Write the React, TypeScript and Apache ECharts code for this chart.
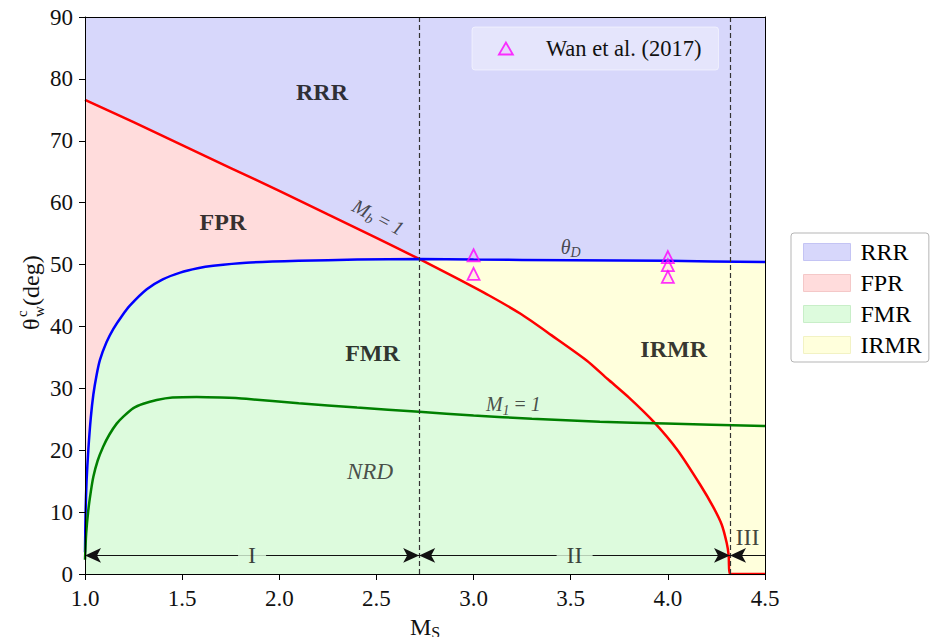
import React, { useEffect, useRef } from 'react';
import * as echarts from 'echarts';

const FONT = "'Liberation Serif', 'Times New Roman', serif";

// ---- data ----
const xTickRange = [1.0, 4.5, 0.5];
const yTickRange = [0, 90, 10];

// Mb = 1 boundary (red)
const redCurve: number[][] = [
  [1.0, 76.6], [1.25, 73.0], [1.5, 69.3], [1.75, 65.6], [2.0, 61.9], [2.25, 58.1],
  [2.5, 54.3], [2.72, 50.9], [2.9, 48.0], [3.08, 45.0], [3.244, 42.0], [3.4, 38.6],
  [3.582, 34.5], [3.69, 31.5], [3.8, 28.5], [3.93, 24.5], [4.05, 20.0], [4.165, 14.5],
  [4.234, 10.8], [4.277, 8.0], [4.303, 5.0], [4.313, 3.0], [4.318, 0], [4.5, 0],
];
// detachment criterion theta_D (blue)
const blueCurve: number[][] = [
  [1.0, 3.5], [1.003, 10.0], [1.008, 15.0], [1.017, 20.0], [1.03, 25.3], [1.043, 29.0],
  [1.06, 32.2], [1.077, 34.6], [1.11, 37.4], [1.146, 39.6], [1.19, 41.7], [1.232, 43.4],
  [1.318, 46.0], [1.4, 47.6], [1.49, 48.7], [1.58, 49.4], [1.66, 49.8], [1.83, 50.3],
  [2.1, 50.6], [2.4, 50.8], [2.72, 50.9], [3.0, 50.8], [3.5, 50.7], [4.0, 50.6], [4.5, 50.4],
];
// M1 = 1 (green)
const greenCurve: number[][] = [
  [1.0, 2.3], [1.006, 6.5], [1.017, 10.3], [1.03, 13.3], [1.043, 15.7], [1.065, 18.3],
  [1.094, 20.6], [1.125, 22.5], [1.163, 24.3], [1.2, 25.5], [1.249, 26.8], [1.3, 27.5],
  [1.369, 28.1], [1.45, 28.5], [1.575, 28.6], [1.7, 28.5], [1.83, 28.3], [2.1, 27.6],
  [2.4, 26.9], [2.72, 26.2], [3.0, 25.6], [3.3, 25.1], [3.65, 24.6], [3.99, 24.3], [4.5, 23.9],
];
// Wan et al. (2017)
const wanPoints: number[][] = [
  [3.0, 51.5], [3.0, 48.5], [4.0, 51.2], [4.0, 49.9], [4.0, 48.0],
];
const transitionMs = [2.72, 4.32];
const rangeLabels = ['I', 'II', 'III'];
const rangeBounds = [[1.0, 2.72], [2.72, 4.32], [4.32, 4.5]];
const arrowLevel = 3;
const regionNames = ['RRR', 'FPR', 'FMR', 'IRMR'];

const FILL: Record<string, string> = { RRR: '#d7d7fb', FPR: '#ffdcdc', FMR: '#ddfbdd', IRMR: '#ffffdc' };
const EDGE: Record<string, string> = { RRR: '#c4c4f4', FPR: '#f4c8c8', FMR: '#c8eec8', IRMR: '#f2f2c4' };

export default function App() {
  const ref = useRef<HTMLDivElement>(null);
  useEffect(() => {
    if (!ref.current) return;
    const chart = echarts.init(ref.current, undefined, { renderer: 'svg' });

    const fmrBoundary = blueCurve.filter(p => p[0] <= transitionMs[0])
      .concat(redCurve.filter(p => p[0] > transitionMs[0]));

    const area = (name: string, data: number[][], smooth: number) => ({
      name, type: 'line', data, symbol: 'none', showSymbol: false, silent: true,
      smooth,
      lineStyle: { width: 0, opacity: 0 },
      areaStyle: { color: FILL[name], opacity: 1 },
      itemStyle: { color: FILL[name] },
      z: 1,
    });

    const italic = { fontFamily: FONT, fontStyle: 'italic', fontSize: 20, color: '#222', lineHeight: 26, verticalAlign: 'middle' };
    const sub = { fontFamily: FONT, fontStyle: 'italic', fontSize: 14, color: '#222', lineHeight: 14, verticalAlign: 'bottom' };
    const normal = { fontFamily: FONT, fontSize: 20, color: '#222', lineHeight: 26, verticalAlign: 'middle' };
    const richLabel = { i: italic, s: sub, n: normal, I: { ...italic, fontSize: 23 } };

    const regionAnchors: Record<string, number[]> = {
      RRR: [2.22, 77.9], FPR: [1.71, 56.8], FMR: [2.48, 35.7], IRMR: [4.03, 36.3],
    };
    const curveTexts = [
      { t: '{i|M}{s|b}{n| = }{i|1}', p: [2.51, 57.7], r: -28 },
      { t: '{i|θ}{s|D}', p: [3.5, 52.9], r: 0 },
      { t: '{i|M}{s|1}{n| = }{i|1}', p: [3.205, 27.4], r: 0 },
      { t: '{I|NRD}', p: [2.467, 16.5], r: 0 },
    ];

    const annotationData: any[] = [];
    regionNames.forEach(n => annotationData.push({
      value: regionAnchors[n],
      label: { show: true, position: 'inside', formatter: n, fontFamily: FONT, fontWeight: 'bold', fontSize: 24, color: '#000' },
    }));
    curveTexts.forEach(c => annotationData.push({
      value: c.p,
      label: { show: true, position: 'inside', formatter: c.t, rotate: c.r, rich: richLabel },
    }));
    rangeLabels.forEach((lab, k) => {
      const mid = (rangeBounds[k][0] + rangeBounds[k][1]) / 2;
      const last = k === rangeLabels.length - 1;
      annotationData.push({
        value: [mid, last ? arrowLevel + 3.0 : arrowLevel],
        label: {
          show: true, position: 'inside', formatter: lab, fontFamily: FONT, fontSize: 24, color: '#111',
          backgroundColor: last ? 'transparent' : FILL.FMR, padding: last ? 0 : [0, 10],
        },
      });
    });

    const arrows = rangeBounds.map((b, k) => [
      { coord: [b[0], arrowLevel], symbol: 'arrow' },
      { coord: [b[1], arrowLevel], symbol: k === rangeBounds.length - 1 ? 'none' : 'arrow' },
    ]);

    const axisLineStyle = { color: '#000', width: 1 };

    chart.setOption({
      animation: false,
      textStyle: { fontFamily: FONT },
      grid: { left: 85, top: 17, width: 680, height: 557, containLabel: false, outerBoundsMode: 'none' },
      legend: [
        {
          orient: 'vertical', left: 791, top: 233, selectedMode: false,
          padding: [7, 7, 5, 12], itemWidth: 47, itemHeight: 17, itemGap: 7,
          backgroundColor: '#fff', borderColor: '#b5b5b5', borderWidth: 1, borderRadius: 3,
          textStyle: { fontFamily: FONT, fontSize: 24, color: '#000', padding: [0, 0, 0, 5] },
          data: regionNames.map(n => ({ name: n, icon: 'rect', itemStyle: { color: FILL[n], borderColor: EDGE[n], borderWidth: 1 } })),
        },
        {
          left: 472, top: 27, selectedMode: false,
          padding: [10, 17, 10, 26], itemWidth: 14, itemHeight: 12,
          backgroundColor: 'rgba(255,255,255,0.35)', borderColor: 'rgba(255,255,255,0.5)', borderWidth: 1, borderRadius: 3,
          textStyle: { fontFamily: FONT, fontSize: 22.5, color: '#111', padding: [0, 0, 0, 28] },
          data: [{ name: 'Wan et al. (2017)', icon: 'triangle', itemStyle: { color: 'rgba(255,0,255,0.08)', borderColor: '#ff00ff', borderWidth: 1.8 } }],
        },
      ],
      xAxis: [
        {
          type: 'value', min: xTickRange[0], max: xTickRange[1], interval: xTickRange[2], z: 10,
          axisLine: { show: true, onZero: false, lineStyle: axisLineStyle },
          axisTick: { show: true, length: 6, lineStyle: axisLineStyle },
          axisLabel: { formatter: (v: number) => v.toFixed(1), fontSize: 23, color: '#111', margin: 13, fontFamily: FONT },
          splitLine: { show: false },
          name: '{m|M}{s|S}', nameLocation: 'middle', nameGap: 31,
          nameTextStyle: {
            rich: {
              m: { fontFamily: FONT, fontSize: 24, color: '#111', lineHeight: 28, verticalAlign: 'middle' },
              s: { fontFamily: FONT, fontSize: 16, color: '#111', lineHeight: 16, verticalAlign: 'bottom' },
            },
          },
        },
        {
          type: 'value', position: 'top', min: xTickRange[0], max: xTickRange[1], interval: xTickRange[2], z: 10,
          axisLine: { show: true, onZero: false, lineStyle: axisLineStyle },
          axisTick: { show: false }, axisLabel: { show: false }, splitLine: { show: false },
        },
      ],
      yAxis: [
        {
          type: 'value', min: yTickRange[0], max: yTickRange[1], interval: yTickRange[2], z: 10,
          axisLine: { show: true, onZero: false, lineStyle: axisLineStyle },
          axisTick: { show: true, length: 6, lineStyle: axisLineStyle },
          axisLabel: { fontSize: 23, color: '#111', margin: 12, fontFamily: FONT },
          splitLine: { show: false },
        },
        {
          type: 'value', position: 'right', min: yTickRange[0], max: yTickRange[1], interval: yTickRange[2], z: 10,
          axisLine: { show: true, onZero: false, lineStyle: axisLineStyle },
          axisTick: { show: false }, axisLabel: { show: false }, splitLine: { show: false },
        },
      ],
      graphic: [
        {
          type: 'group', x: 31, y: 292, rotation: Math.PI / 2,
          children: [
            { type: 'text', x: -38, y: 0, style: { text: 'θ', font: `24px ${FONT}`, fill: '#111', verticalAlign: 'middle' } },
            { type: 'text', x: -25, y: -9, style: { text: 'c', font: `15px ${FONT}`, fill: '#111', verticalAlign: 'middle' } },
            { type: 'text', x: -25, y: 8, style: { text: 'w', font: `15px ${FONT}`, fill: '#111', verticalAlign: 'middle' } },
            { type: 'text', x: -14, y: 0, style: { text: '(deg)', font: `24px ${FONT}`, fill: '#111', verticalAlign: 'middle' } },
          ],
        },
      ],
      series: [
        area('RRR', [[xTickRange[0], yTickRange[1]], [xTickRange[1], yTickRange[1]]], 0),
        area('FPR', redCurve, 0.25),
        area('IRMR', blueCurve, 0.25),
        area('FMR', fmrBoundary, 0),
        {
          name: 'Mb', type: 'line', data: redCurve, symbol: 'none', silent: true, z: 4,
          smooth: 0.25,
          lineStyle: { color: '#ff0000', width: 2.5 },
        },
        {
          name: 'thetaD', type: 'line', data: blueCurve, symbol: 'none', silent: true, z: 4,
          smooth: 0.25,
          lineStyle: { color: '#0000ff', width: 2.5 },
          markLine: {
            silent: true, symbol: ['none', 'none'], label: { show: false },
            lineStyle: { color: '#333', type: [5, 3], width: 1.2 },
            data: transitionMs.map(v => ({ xAxis: v })),
          },
        },
        {
          name: 'M1', type: 'line', data: greenCurve, symbol: 'none', silent: true, z: 4,
          smooth: 0.25,
          lineStyle: { color: '#008000', width: 2.5 },
          markLine: {
            silent: true, symbol: ['arrow', 'arrow'], symbolSize: [11, 16], label: { show: false },
            lineStyle: { color: '#111', type: 'solid', width: 1 },
            data: arrows,
          },
        },
        {
          name: 'Wan et al. (2017)', type: 'scatter', data: wanPoints, symbol: 'triangle', symbolSize: 12, z: 6,
          itemStyle: { color: 'rgba(255,0,255,0.08)', borderColor: '#ff00ff', borderWidth: 1.8 },
        },
        {
          name: 'annotations', type: 'scatter', data: annotationData, symbol: 'circle', symbolSize: 1, silent: true, z: 8,
          itemStyle: { color: 'rgba(0,0,0,0)' },
        },
      ],
    });
    return () => chart.dispose();
  }, []);
  return <div ref={ref} style={{ position: 'fixed', left: 0, top: 0, width: 933, height: 637, background: '#fff' }} />;
}
